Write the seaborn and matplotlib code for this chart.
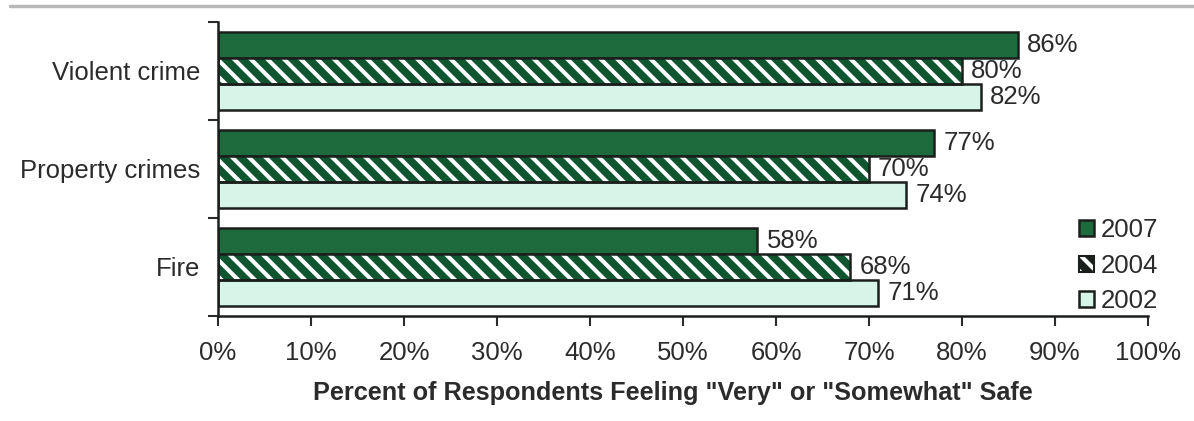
import matplotlib
matplotlib.use("Agg")
import matplotlib.pyplot as plt
from matplotlib.lines import Line2D
from matplotlib.patches import Rectangle
from matplotlib.ticker import FixedLocator, PercentFormatter
import seaborn as sns
import pandas as pd

# Survey results: share of respondents feeling "very" or "somewhat" safe
categories = ["Violent crime", "Property crimes", "Fire"]
years = ["2007", "2004", "2002"]
pct_2007 = [86, 77, 58]
pct_2004 = [80, 70, 68]
pct_2002 = [82, 74, 71]

rows = []
for yr, vals in zip(years, [pct_2007, pct_2004, pct_2002]):
    for cat, v in zip(categories, vals):
        rows.append({"category": cat, "year": yr, "pct": v})
df = pd.DataFrame(rows)

dark_green = "#1d6a3d"
hatch_green = "#0f5530"
mint = "#d6f4e8"
ink = "#2b2b2b"
edge = "#1a1f1c"
fs = 18.5

sns.set_theme(style="white")
plt.rcParams["font.family"] = ["Liberation Sans", "DejaVu Sans"]
plt.rcParams["hatch.linewidth"] = 5.5
plt.rcParams["text.color"] = ink
plt.rcParams["axes.labelcolor"] = ink
plt.rcParams["xtick.color"] = ink
plt.rcParams["ytick.color"] = ink

fig = plt.figure(figsize=(11.94, 4.21), dpi=100)
ax = fig.add_axes([0.1826, 0.2494, 0.9615 - 0.1826, 0.948 - 0.2494])

sns.barplot(
    data=df, y="category", x="pct", hue="year", orient="h",
    hue_order=years, order=categories,
    palette={"2007": dark_green, "2004": "white", "2002": mint},
    width=0.8, edgecolor=edge, linewidth=1.8, legend=False, ax=ax,
    saturation=1,
)

# Hatched 2004 bars: stripes take the edge colour, so draw the black outline on top
for patch in ax.containers[1].patches:
    patch.set_hatch("\\\\")
    patch.set_edgecolor(hatch_green)
    patch.set_linewidth(0)
    bb = patch.get_bbox()
    ax.add_patch(Rectangle((bb.x0, bb.y0), bb.width, bb.height,
                           fill=False, edgecolor=edge, linewidth=1.8, zorder=patch.get_zorder() + 0.1))

for cont in ax.containers:
    ax.bar_label(cont, fmt="%d%%", padding=6.5, fontsize=fs, color=ink)

ax.set_xlim(0, 100)
ax.set_ylim(2.5, -0.5)
ax.xaxis.set_major_locator(FixedLocator(range(0, 101, 10)))
ax.xaxis.set_major_formatter(PercentFormatter(decimals=0))
ax.tick_params(axis="x", direction="out", length=7, width=1.5, pad=11, labelsize=fs, bottom=True)

# Category labels sit at the centre; tick marks sit at the group boundaries
ax.yaxis.set_minor_locator(FixedLocator([-0.5, 0.5, 1.5, 2.5]))
ax.tick_params(axis="y", which="major", length=0, pad=13, labelsize=fs)
ax.tick_params(axis="y", which="minor", direction="out", length=7, width=1.5, left=True)

ax.set_ylabel("")
ax.set_xlabel('Percent of Respondents Feeling "Very" or "Somewhat" Safe',
              fontsize=18.2, fontweight="bold", labelpad=11.5)
ax.xaxis.label.set_x(0.489)

for side in ["top", "right"]:
    ax.spines[side].set_visible(False)
for side in ["left", "bottom"]:
    ax.spines[side].set_color(edge)
    ax.spines[side].set_linewidth(1.8)

handles = [ax.containers[0].patches[0],
           Rectangle((0, 0), 1, 1, facecolor="white", edgecolor=edge, hatch="\\\\", linewidth=1.5),
           ax.containers[2].patches[0]]
leg = fig.legend(handles, years, loc="upper left", bbox_to_anchor=(0.895, 0.506),
                 frameon=False, fontsize=fs, handlelength=0.6, handleheight=0.6,
                 handletextpad=0.25, labelspacing=0.45, borderaxespad=0)

# Thin grey rule across the top of the figure
fig.add_artist(Line2D([0.008, 1.0], [0.986, 0.986], transform=fig.transFigure,
                      color="#b8b8b8", linewidth=2.5))

fig.savefig("out.png", dpi=100)
